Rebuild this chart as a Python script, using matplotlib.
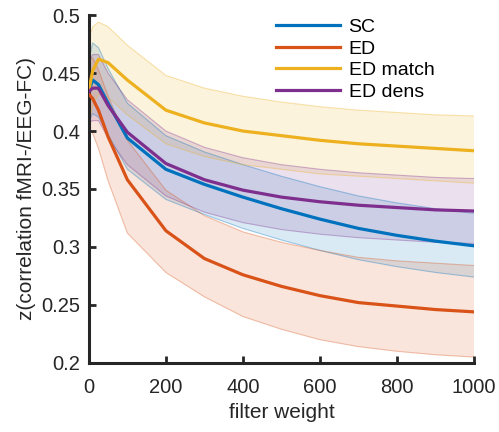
import matplotlib
matplotlib.use("Agg")
import matplotlib.pyplot as plt
import numpy as np

plt.rcParams['font.family'] = ['Liberation Sans', 'DejaVu Sans']

filter_weight = [0, 10, 25, 50, 100, 200, 300, 400, 500, 600, 700, 800, 900, 1000]

sc_mean = [0.435, 0.444, 0.440, 0.424, 0.394, 0.367, 0.354, 0.343, 0.333, 0.324, 0.316, 0.310, 0.305, 0.301]
sc_upper = [0.462, 0.476, 0.472, 0.454, 0.424, 0.396, 0.382, 0.371, 0.361, 0.352, 0.344, 0.338, 0.333, 0.329]
sc_lower = [0.408, 0.415, 0.412, 0.397, 0.367, 0.341, 0.328, 0.316, 0.306, 0.297, 0.289, 0.283, 0.278, 0.274]

ed_mean = [0.432, 0.428, 0.418, 0.395, 0.358, 0.314, 0.290, 0.276, 0.266, 0.258, 0.252, 0.249, 0.246, 0.244]
ed_upper = [0.462, 0.463, 0.453, 0.430, 0.392, 0.349, 0.327, 0.313, 0.304, 0.297, 0.291, 0.288, 0.286, 0.284]
ed_lower = [0.402, 0.398, 0.385, 0.357, 0.312, 0.278, 0.257, 0.240, 0.229, 0.220, 0.214, 0.210, 0.207, 0.205]

match_mean = [0.435, 0.452, 0.462, 0.459, 0.444, 0.418, 0.407, 0.400, 0.396, 0.392, 0.389, 0.387, 0.385, 0.383]
match_upper = [0.480, 0.490, 0.494, 0.490, 0.474, 0.448, 0.437, 0.430, 0.425, 0.421, 0.418, 0.416, 0.414, 0.413]
match_lower = [0.405, 0.422, 0.432, 0.429, 0.414, 0.389, 0.378, 0.371, 0.367, 0.363, 0.361, 0.359, 0.357, 0.355]

dens_mean = [0.434, 0.437, 0.437, 0.422, 0.399, 0.372, 0.358, 0.349, 0.343, 0.339, 0.336, 0.334, 0.332, 0.331]
dens_upper = [0.460, 0.466, 0.466, 0.450, 0.427, 0.400, 0.386, 0.377, 0.371, 0.367, 0.364, 0.362, 0.360, 0.359]
dens_lower = [0.407, 0.409, 0.409, 0.394, 0.371, 0.344, 0.330, 0.321, 0.315, 0.311, 0.308, 0.306, 0.304, 0.303]

labels = ['SC', 'ED', 'ED match', 'ED dens']
colors = ['#0072BD', '#D95319', '#EDB120', '#7E2F8E']

series = [
    (sc_mean, sc_lower, sc_upper),
    (ed_mean, ed_lower, ed_upper),
    (match_mean, match_lower, match_upper),
    (dens_mean, dens_lower, dens_upper),
]

fig = plt.figure(figsize=(4.99, 4.32), dpi=100)
ax = fig.add_axes([0.178, 0.160, 0.772, 0.805])

x = np.array(filter_weight)
for (m, lo, up), c in zip(series, colors):
    ax.fill_between(x, lo, up, facecolor=c, alpha=0.15, edgecolor='none', zorder=1)
    ax.plot(x, up, color=c, alpha=0.35, lw=0.8, zorder=1.5)
    ax.plot(x, lo, color=c, alpha=0.35, lw=0.8, zorder=1.5)

handles = []
for (m, lo, up), c, lab in zip(series, colors, labels):
    h, = ax.plot(x, m, color=c, lw=2.3, label=lab, zorder=3)
    handles.append(h)

ax.set_xlim(0, 1000)
ax.set_ylim(0.2, 0.5)
ax.set_xticks([0, 200, 400, 600, 800, 1000])
yt = [0.2, 0.25, 0.3, 0.35, 0.4, 0.45, 0.5]
ax.set_yticks(yt)
ax.set_yticklabels(['%g' % v for v in yt])

for s in ['top', 'right']:
    ax.spines[s].set_visible(False)
for s in ['left', 'bottom']:
    ax.spines[s].set_linewidth(2.2)
    ax.spines[s].set_color('#262626')
ax.tick_params(direction='in', length=5, width=2, labelsize=14.5, colors='#262626', pad=6)
ax.tick_params(axis='x', pad=11)

ax.set_xlabel('filter weight', fontsize=15, color='#262626', labelpad=4)
ax.set_ylabel('z(correlation fMRI-/EEG-FC)', fontsize=15, color='#262626', labelpad=4)

leg = ax.legend(handles=handles, loc='upper left', bbox_to_anchor=(0.485, 0.99),
                frameon=False, fontsize=14, handlelength=3.3, handletextpad=0.45,
                labelspacing=0.2, borderpad=0, borderaxespad=0)
for l in leg.get_lines():
    l.set_linewidth(2.3)

fig.savefig('out.png', dpi=100)
